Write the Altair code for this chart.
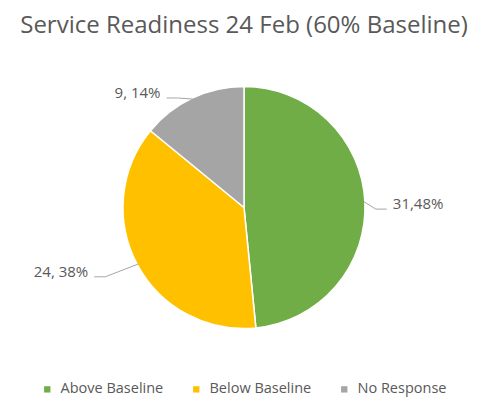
import altair as alt
import pandas as pd

categories = ["Above Baseline", "Below Baseline", "No Response"]
values = [31, 24, 9]
labels = ["31,48%", "24, 38%", "9, 14%"]
colors = ["#70AD47", "#FFC000", "#A5A5A5"]

W, H = 472, 299
R = 121
RX, C_RIGHT, C_LEFT, RY, DY = 159, -10, 15.5, 130, 3
FONT = "Open Sans"
TXT = "#595959"

df = pd.DataFrame({"category": categories, "value": values, "label": labels,
                   "order": list(range(len(categories)))})

base = alt.Chart(df).transform_joinaggregate(
    total="sum(value)"
).transform_window(
    cum="sum(value)", sort=[alt.SortField("order")], frame=[None, 0]
).transform_calculate(
    mid="((datum.cum - datum.value) + datum.value / 2) / datum.total * 2 * PI",
).transform_calculate(
    side="sin(datum.mid) >= 0 ? 1 : -1",
    sx=f"{W/2} + {R - 1} * sin(datum.mid)",
    sy=f"{H/2} - {R - 1} * cos(datum.mid)",
    ty=f"{H/2} - {RY} * cos(datum.mid) + {DY}",
    tx=(f"{W/2} + (sin(datum.mid) >= 0 ? ({RX} * abs(sin(datum.mid)) + ({C_RIGHT})) "
        f": -({RX} * abs(sin(datum.mid)) + {C_LEFT}))"),
).transform_calculate(
    ly="datum.ty + 5",
    lx="datum.tx - datum.side * 6",
).transform_calculate(
    ex="datum.lx - datum.side * 11",
)

pie = alt.Chart(df).mark_arc(outerRadius=R, stroke="white", strokeWidth=1.5).encode(
    theta=alt.Theta("value:Q", stack=True),
    order=alt.Order("order:Q"),
    color=alt.Color("category:N",
                    scale=alt.Scale(domain=categories, range=colors),
                    sort=categories,
                    legend=alt.Legend(title=None, orient="none", direction="horizontal",
                                      legendX=32, legendY=324,
                                      symbolType="square", symbolSize=40,
                                      symbolStrokeWidth=0,
                                      labelFont=FONT, labelFontSize=14.5, labelColor=TXT,
                                      columnPadding=25, labelOffset=6, padding=0)),
)

rule1 = base.mark_rule(color="#A6A6A6", strokeWidth=1).encode(
    x=alt.X("sx:Q", scale=None), y=alt.Y("sy:Q", scale=None),
    x2="ex:Q", y2="ly:Q",
)
rule2 = base.mark_rule(color="#A6A6A6", strokeWidth=1).encode(
    x=alt.X("ex:Q", scale=None), y=alt.Y("ly:Q", scale=None),
    x2="lx:Q", y2="ly:Q",
)

txt_right = base.transform_filter("datum.side > 0").mark_text(
    align="left", baseline="middle", font=FONT, fontSize=15, color=TXT
).encode(x=alt.X("tx:Q", scale=None), y=alt.Y("ty:Q", scale=None), text="label:N")

txt_left = base.transform_filter("datum.side < 0").mark_text(
    align="right", baseline="middle", font=FONT, fontSize=15, color=TXT
).encode(x=alt.X("tx:Q", scale=None), y=alt.Y("ty:Q", scale=None), text="label:N")

chart = alt.layer(pie, rule1, rule2, txt_right, txt_left).properties(
    width=W, height=H,
    title=alt.TitleParams("Service Readiness 24 Feb (60% Baseline)", font=FONT,
                          fontSize=24, fontWeight="normal", color=TXT,
                          anchor="middle", offset=20),
    autosize=alt.AutoSizeParams(type="none"),
    padding={"left": 0, "right": 0, "top": 50, "bottom": 40},
).configure_view(stroke=None)

chart.save("out.html", embed_options={"renderer": "svg", "actions": False})
